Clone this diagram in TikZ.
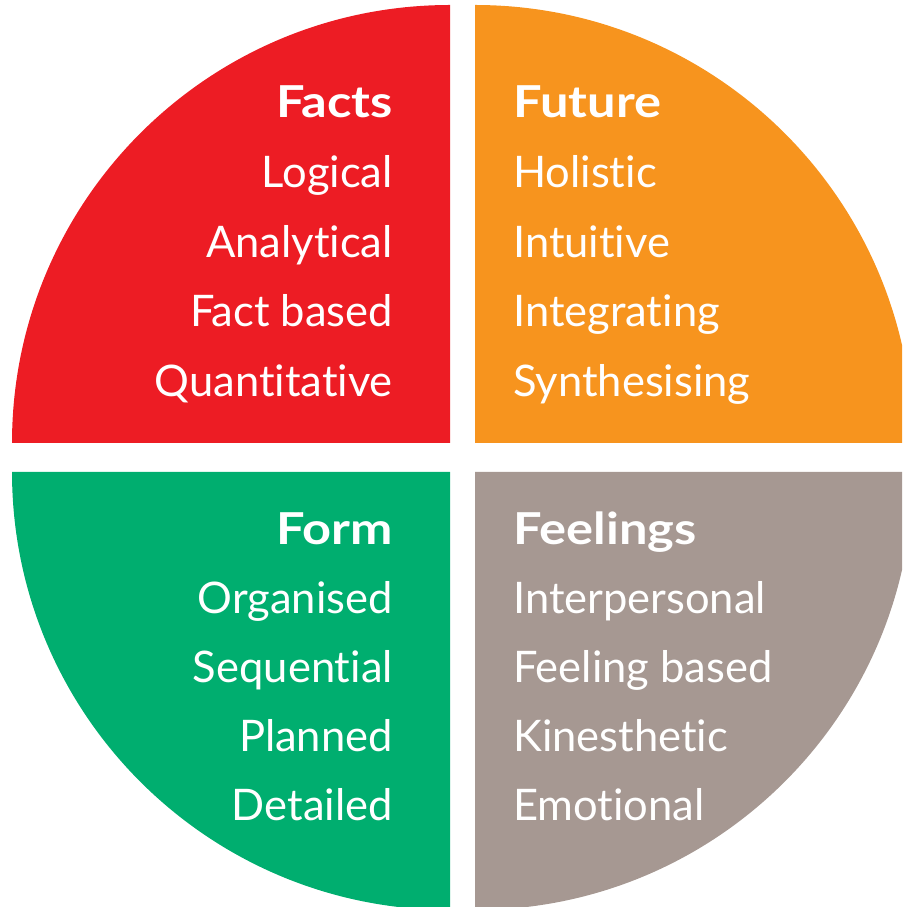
\documentclass[tikz,border=0pt]{standalone}
\usepackage{fontspec}
\setmainfont{Lato}[Ligatures=NoCommon]
\newfontfamily\headfont{Lato}[Ligatures=NoCommon,FakeStretch=1.15]
\definecolor{qred}{RGB}{237,28,36}
\definecolor{qorange}{RGB}{247,148,30}
\definecolor{qgreen}{RGB}{0,174,111}
\definecolor{qgray}{RGB}{166,152,146}
\begin{document}
\begin{tikzpicture}[x=1pt,y=1pt,
  item/.style={text=white,inner sep=0pt,font=\fontsize{43.5}{50}\selectfont},
  head/.style={item,font=\fontsize{44}{50}\selectfont\headfont\bfseries},
  le/.style={anchor=base east},
  ri/.style={anchor=base west}]
\useasboundingbox (0,0) rectangle (902,907);
\clip (0,0) rectangle (902,907);
% quadrants
\fill[qred]    (450,464) -- (12,464) arc[start angle=180,end angle=90,radius=438] -- cycle;
\fill[qorange] (475,464) -- (475,902) arc[start angle=90,end angle=0,radius=438] -- cycle;
\fill[qgreen]  (450,435) -- (12,435) arc[start angle=180,end angle=270,radius=438] -- cycle;
\fill[qgray]   (475,435) -- (913,435) arc[start angle=0,end angle=-90,radius=438] -- cycle;
% Facts
\node[head,le] (facts) at (393,789) {Facts};
\node[item,le] (f1) at (393,719) {Logical};
\node[item,le] (f2) at (393,649) {Analytical};
\node[item,le] (f3) at (393,580) {Fact based};
\node[item,le] (f4) at (393,510) {Quantitative};
% Future
\node[head,ri] (future) at (513,789) {Future};
\node[item,ri] (u1) at (513,719) {Holistic};
\node[item,ri] (u2) at (513,649) {Intuitive};
\node[item,ri] (u3) at (513,580) {Integrating};
\node[item,ri] (u4) at (513,510) {Synthesising};
% Form
\node[head,le] (form) at (393,362) {Form};
\node[item,le] (o1) at (393,293) {Organised};
\node[item,le] (o2) at (393,224) {Sequential};
\node[item,le] (o3) at (393,155) {Planned};
\node[item,le] (o4) at (393,86) {Detailed};
% Feelings
\node[head,ri] (feel) at (513,362) {Feelings};
\node[item,ri] (e1) at (513,293) {Interpersonal};
\node[item,ri] (e2) at (513,224) {Feeling based};
\node[item,ri] (e3) at (513,155) {Kinesthetic};
\node[item,ri] (e4) at (513,86) {Emotional};
\end{tikzpicture}
\end{document}
